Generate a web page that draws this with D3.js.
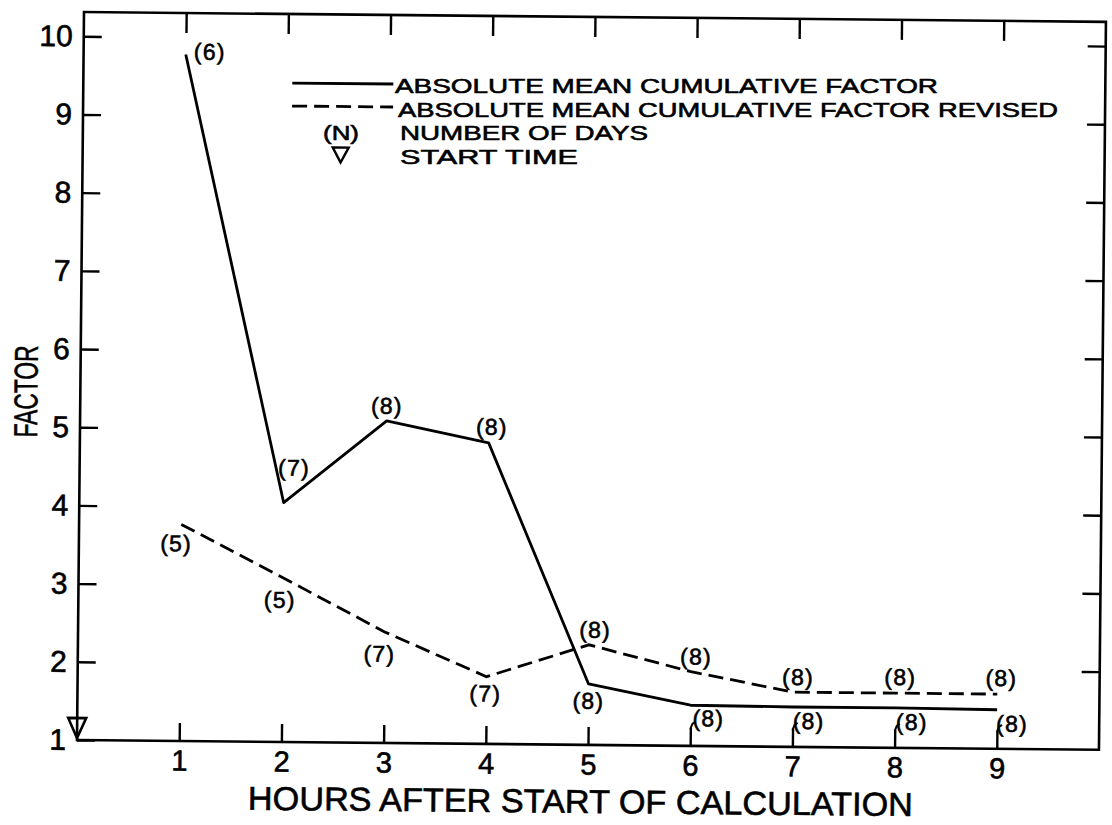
<!DOCTYPE html>
<html>
<head>
<meta charset="utf-8">
<script src="https://cdn.jsdelivr.net/npm/d3@7"></script>
<style>
  html, body { margin: 0; padding: 0; background: #fff; }
  svg { display: block; }
  text { stroke: #000; stroke-width: 0.6px; fill: #000; }
</style>
</head>
<body>
<script>
// Hourly factors after the start of the calculation
const hours = [1, 2, 3, 4, 5, 6, 7, 8, 9];
const cumulativeFactor = [9.78, 4.06, 5.12, 4.85, 1.78, 1.52, 1.51, 1.51, 1.50];
const revisedFactor = [3.77, 3.10, 2.42, 1.86, 2.28, 1.95, 1.70, 1.70, 1.70];
// Number of days behind each point
const cumulativeDays = [6, 7, 8, 8, 8, 8, 8, 8, 8];
const revisedDays = [5, 5, 7, 7, 8, 8, 8, 8, 8];
// Axis ticks
const xTicks = [1, 2, 3, 4, 5, 6, 7, 8, 9];
const yTicks = [1, 2, 3, 4, 5, 6, 7, 8, 9, 10];
const hookedTicks = [6, 7, 8, 9];
const startHour = 0;
const startFactor = 1;

// Label placement (pixel offsets from each point)
const cumulativeLabelOffsets = [[24, -3], [10, -35], [0, -15], [3, -16], [0, 17], [18, 13], [16, 14], [17, 14], [15, 14]];
const revisedLabelOffsets = [[-5, 19], [-3, 22], [-5, 22], [-1, 17], [6, -15], [5, -15], [5, -15], [5, -16], [4, -16]];

const FONT = "'Liberation Sans', Arial, sans-serif";
const W = 1022, H = 728;

const svg = d3.select("body").append("svg")
  .attr("width", 1112).attr("height", 825);

// whole sheet sits slightly tilted
const g = svg.append("g").attr("transform", "translate(77,740) rotate(0.55)");

const x = d3.scaleLinear().domain([0, 10]).range([0, W]);
const y = d3.scaleLinear().domain([1, 10.31]).range([0, -H]);

// frame
g.append("rect")
  .attr("x", x(0)).attr("y", y(10.31))
  .attr("width", x(10) - x(0)).attr("height", y(1) - y(10.31))
  .attr("fill", "none").attr("stroke", "#000").attr("stroke-width", 2.6);

function styleAxis(sel, size) {
  sel.select(".domain").remove();
  sel.selectAll(".tick line").attr("stroke", "#000").attr("stroke-width", 2.4);
  sel.selectAll("text")
    .attr("fill", "#000")
    .style("font-family", FONT)
    .style("font-size", size + "px");
}

// bottom axis
const gx = g.append("g")
  .call(d3.axisBottom(x).tickValues(xTicks).tickSize(-18).tickSizeOuter(0).tickPadding(9).tickFormat(d3.format("d")));
styleAxis(gx, 29);

// small hooks on the upper ticks
g.selectAll(".hook").data(hookedTicks).join("path")
  .attr("class", "hook")
  .attr("d", d => d3.line()([[x(d), -17], [x(d) + 2, -22], [x(d) + 5, -24]]))
  .attr("fill", "none").attr("stroke", "#000").attr("stroke-width", 2);

// top axis
const gt = g.append("g").attr("transform", `translate(0,${y(10.31)})`)
  .call(d3.axisTop(x).tickValues(xTicks).tickSize(-20).tickSizeOuter(0).tickFormat(""));
styleAxis(gt, 10);

// left axis
const gy = g.append("g")
  .call(d3.axisLeft(y).tickValues(yTicks).tickSize(-18).tickSizeOuter(0).tickPadding(11).tickFormat(d3.format("d")));
styleAxis(gy, 30);

// right axis
const gr = g.append("g").attr("transform", `translate(${x(10)},0)`)
  .call(d3.axisRight(y).tickValues(yTicks.slice(1)).tickSize(-18).tickSizeOuter(0).tickFormat(""));
styleAxis(gr, 10);

// axis titles
g.append("text")
  .attr("x", 504).attr("y", 68)
  .attr("text-anchor", "middle")
  .attr("textLength", 665).attr("lengthAdjust", "spacingAndGlyphs")
  .style("font-family", FONT).style("font-size", "33px")
  .text("HOURS AFTER START OF CALCULATION");

g.append("text")
  .attr("transform", "translate(-43,-348) rotate(-90)")
  .attr("text-anchor", "middle")
  .attr("textLength", 92).attr("lengthAdjust", "spacingAndGlyphs")
  .style("font-family", FONT).style("font-size", "33px")
  .text("FACTOR");

// series
const line = d3.line().x(d => x(d[0])).y(d => y(d[1]));
const cumData = hours.map((h, i) => [h, cumulativeFactor[i]]);
const revData = hours.map((h, i) => [h, revisedFactor[i]]);

g.append("path").datum(cumData)
  .attr("d", line).attr("fill", "none")
  .attr("stroke", "#000").attr("stroke-width", 2.8).attr("stroke-linejoin", "round");

g.append("path").datum(revData)
  .attr("d", line).attr("fill", "none")
  .attr("stroke", "#000").attr("stroke-width", 2.8)
  .attr("stroke-dasharray", "15,7");

// day counts
function dayLabels(data, days, offsets) {
  g.append("g").selectAll("text").data(data).join("text")
    .attr("x", (d, i) => x(d[0]) + offsets[i][0])
    .attr("y", (d, i) => y(d[1]) + offsets[i][1])
    .attr("text-anchor", "middle")
    .attr("dominant-baseline", "central")
    .style("font-family", FONT).style("font-size", "23px")
    .style("letter-spacing", "1.2px")
    .text((d, i) => `(${days[i]})`);
}
dayLabels(cumData, cumulativeDays, cumulativeLabelOffsets);
dayLabels(revData, revisedDays, revisedLabelOffsets);

// start time marker
const sx = x(startHour), sy = y(startFactor);
g.append("path")
  .attr("d", d3.line()([[sx - 9, sy - 22], [sx + 9, sy - 22], [sx, sy - 2]]) + "Z")
  .attr("fill", "none").attr("stroke", "#000").attr("stroke-width", 2.6).attr("stroke-linejoin", "miter");

// legend keys
const leg = g.append("g");
leg.append("line").attr("x1", 209).attr("x2", 310).attr("y1", -659).attr("y2", -659)
  .attr("stroke", "#000").attr("stroke-width", 2.8);
leg.append("line").attr("x1", 209).attr("x2", 310).attr("y1", -636).attr("y2", -636)
  .attr("stroke", "#000").attr("stroke-width", 2.8).attr("stroke-dasharray", "15,7");
leg.append("path")
  .attr("d", d3.line()([[250, -595], [266, -595], [258, -580]]) + "Z")
  .attr("fill", "none").attr("stroke", "#000").attr("stroke-width", 2.4);

// legend texts, kept level so the rows stay clear of each other
const legText = svg.append("g").attr("transform", "translate(77,740)");
legText.append("text").attr("x", 264).attr("y", -600).attr("text-anchor", "middle")
  .attr("textLength", 36).attr("lengthAdjust", "spacingAndGlyphs")
  .style("font-family", FONT).style("font-size", "21px").text("(N)");

const legendRows = [
  { text: "ABSOLUTE MEAN CUMULATIVE FACTOR", x: 318, y: -647, len: 543 },
  { text: "ABSOLUTE MEAN CUMULATIVE FACTOR REVISED", x: 321, y: -623.5, len: 660 },
  { text: "NUMBER OF DAYS", x: 323, y: -600, len: 248 },
  { text: "START TIME", x: 323, y: -576.5, len: 178 }
];
legText.selectAll("text.row").data(legendRows).join("text")
  .attr("class", "row")
  .attr("x", d => d.x).attr("y", d => d.y)
  .attr("textLength", d => d.len).attr("lengthAdjust", "spacingAndGlyphs")
  .style("font-family", FONT).style("font-size", "21px")
  .text(d => d.text);
</script>
</body>
</html>
